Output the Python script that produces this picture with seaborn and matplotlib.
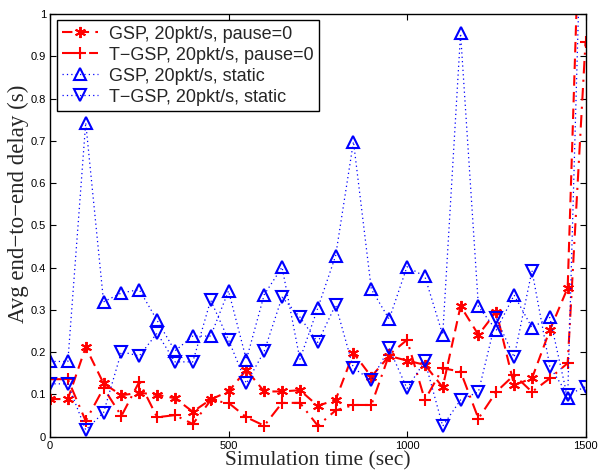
import matplotlib
matplotlib.use("Agg")
import matplotlib.pyplot as plt
import seaborn as sns

# data (delay in seconds every 50 s)
times = [0, 50, 100, 150, 200, 250, 300, 350, 400, 450, 500, 550, 600, 650, 700,
         750, 800, 850, 900, 950, 1000, 1050, 1100, 1150, 1200, 1250, 1300, 1350,
         1400, 1450, 1500]

gsp_mobile = [0.089, 0.089, 0.212, 0.126, 0.098, 0.104, 0.099, 0.091, 0.059, 0.088,
              0.107, 0.158, 0.107, 0.107, 0.110, 0.073, 0.087, 0.198, 0.142, 0.191,
              0.180, 0.170, 0.117, 0.309, 0.241, 0.296, 0.122, 0.138, 0.252, 0.352, 1.68]

tgsp_mobile = [0.136, 0.136, 0.037, 0.115, 0.049, 0.130, 0.046, 0.051, 0.030, 0.086,
               0.080, 0.046, 0.026, 0.080, 0.080, 0.026, 0.062, 0.075, 0.075, 0.194,
               0.229, 0.087, 0.162, 0.154, 0.043, 0.106, 0.146, 0.106, 0.138, 0.174, 0.934]

gsp_static = [0.178, 0.178, 0.743, 0.319, 0.340, 0.348, 0.275, 0.203, 0.238, 0.238,
              0.345, 0.182, 0.336, 0.401, 0.183, 0.304, 0.428, 0.698, 0.349, 0.278,
              0.402, 0.379, 0.241, 0.954, 0.308, 0.252, 0.335, 0.258, 0.282, 0.091, 1.6]

tgsp_static = [0.125, 0.125, 0.016, 0.057, 0.201, 0.191, 0.245, 0.177, 0.177, 0.323,
               0.229, 0.126, 0.202, 0.330, 0.283, 0.223, 0.312, 0.162, 0.134, 0.209,
               0.114, 0.179, 0.025, 0.087, 0.106, 0.280, 0.188, 0.393, 0.166, 0.099, 0.118]

labels = ["GSP, 20pkt/s, pause=0", "T\u2212GSP, 20pkt/s, pause=0",
          "GSP, 20pkt/s, static", "T\u2212GSP, 20pkt/s, static"]

# MATLAB-ish look for each series
styles = [
    dict(color='red', ls=(0, (5, 3)), lw=1.5, marker=(6, 2, 0), ms=8, mfc='red', mew=1.4),
    dict(color='red', ls=(0, (6, 3, 1, 3)), lw=1.5, marker='+', ms=9, mfc='red', mew=1.5),
    dict(color='blue', ls=(0, (1, 2.5)), lw=0.9, marker='^', ms=8, mfc='none', mew=1.5),
    dict(color='blue', ls=(0, (1, 2.5)), lw=0.9, marker='v', ms=8, mfc='none', mew=1.5),
]

sns.set_style("white")
plt.rcParams['font.family'] = ['Liberation Sans', 'DejaVu Sans']

fig = plt.figure(figsize=(5.99, 4.76), dpi=100)
ax = fig.add_axes([0.0835, 0.0826, 0.894, 0.888])

for vals, lab in zip([gsp_mobile, tgsp_mobile, gsp_static, tgsp_static], labels):
    sns.lineplot(x=times, y=vals, ax=ax, label=lab, legend=False, sort=False)

for line, st in zip(ax.lines, styles):
    line.set_color(st['color'])
    line.set_linestyle(st['ls'])
    line.set_linewidth(st['lw'])
    line.set_marker(st['marker'])
    line.set_markersize(st['ms'])
    line.set_markeredgecolor(st['color'])
    line.set_markerfacecolor(st['mfc'])
    line.set_markeredgewidth(st['mew'])

ax.set_xlim(0, 1500)
ax.set_ylim(0, 1)
ax.set_xticks([0, 500, 1000, 1500])
ax.set_yticks([0, 0.1, 0.2, 0.3, 0.4, 0.5, 0.6, 0.7, 0.8, 0.9, 1])
ax.set_yticklabels(['0', '0.1', '0.2', '0.3', '0.4', '0.5', '0.6', '0.7', '0.8', '0.9', '1'])
ax.tick_params(direction='in', length=4.5, width=0.8, labelsize=8, top=True, right=True,
               bottom=True, left=True, colors='black', pad=3)
for s in ax.spines.values():
    s.set_color('black')
    s.set_linewidth(1.0)

ax.set_xlabel('Simulation time (sec)', family='Liberation Serif', fontsize=15.5, labelpad=0)
ax.set_ylabel('Avg end\u2212to\u2212end delay (s)', family='Liberation Serif', fontsize=16.5)
ax.yaxis.set_label_coords(-0.039, 0.552)

leg = ax.legend(ax.lines, labels, loc='upper left', bbox_to_anchor=(0.0125, 0.985),
                fontsize=13, frameon=True, fancybox=False, edgecolor='black',
                framealpha=1, handlelength=2.0, borderpad=0.3, labelspacing=0.22,
                handletextpad=0.6, borderaxespad=0)
leg.get_frame().set_linewidth(1.0)

fig.savefig('out.png', dpi=100)
